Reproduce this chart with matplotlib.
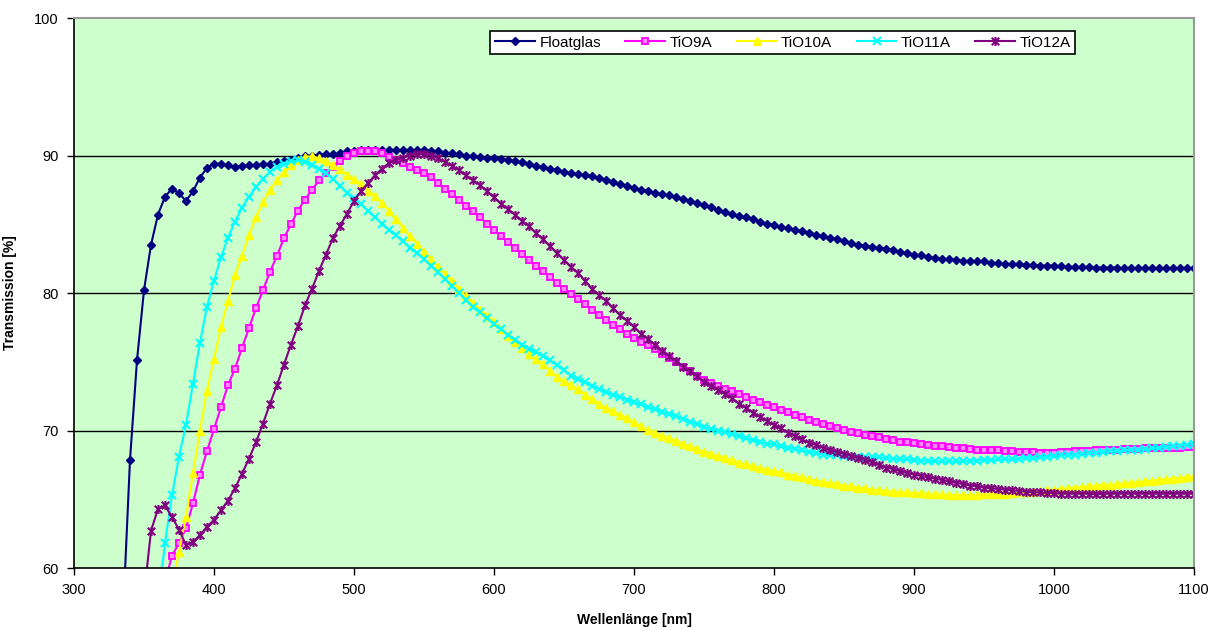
import numpy as np
import matplotlib.pyplot as plt
from matplotlib.path import Path

# wavelength start of each series (5 nm steps up to 1100 nm)
start_float, start_tio9, start_tio10, start_tio11, start_tio12 = 330, 365, 370, 360, 350

floatglas = [
    50.0, 56.5, 67.85, 75.1, 80.2, 83.5, 85.7, 87.0, 87.6, 87.25,
    86.7, 87.4, 88.4, 89.1, 89.4, 89.4, 89.3, 89.2, 89.25, 89.3,
    89.3, 89.35, 89.4, 89.55, 89.6, 89.7, 89.85, 89.95, 90.0, 90.05,
    90.1, 90.1, 90.15, 90.3, 90.35, 90.4, 90.4, 90.4, 90.4, 90.4,
    90.4, 90.4, 90.4, 90.4, 90.4, 90.35, 90.3, 90.2, 90.15, 90.1,
    90.0, 89.95, 89.9, 89.85, 89.8, 89.75, 89.7, 89.6, 89.5, 89.4,
    89.25, 89.15, 89.05, 88.95, 88.8, 88.7, 88.65, 88.55, 88.5, 88.35,
    88.25, 88.1, 87.95, 87.8, 87.65, 87.5, 87.4, 87.3, 87.2, 87.1,
    87.0, 86.85, 86.7, 86.55, 86.4, 86.25, 86.05, 85.9, 85.75, 85.6,
    85.5, 85.35, 85.2, 85.05, 84.95, 84.8, 84.7, 84.6, 84.5, 84.4,
    84.25, 84.15, 84.0, 83.9, 83.8, 83.65, 83.5, 83.45, 83.35, 83.25,
    83.2, 83.15, 83.0, 82.9, 82.8, 82.75, 82.65, 82.55, 82.5, 82.45,
    82.4, 82.35, 82.3, 82.3, 82.3, 82.2, 82.15, 82.1, 82.1, 82.1,
    82.05, 82.05, 82.0, 82.0, 82.0, 81.95, 81.9, 81.9, 81.9, 81.9,
    81.85, 81.85, 81.85, 81.85, 81.8, 81.8, 81.8, 81.8, 81.8, 81.8,
    81.8, 81.8, 81.8, 81.8, 81.8]

tio9a = [
    59.0, 60.9, 61.8, 62.9, 64.7, 66.8, 68.5, 70.1, 71.7, 73.3,
    74.5, 76.0, 77.45, 78.9, 80.2, 81.55, 82.7, 84.0, 85.0, 86.0,
    86.8, 87.5, 88.2, 88.7, 89.2, 89.6, 90.0, 90.2, 90.3, 90.35,
    90.3, 90.15, 89.9, 89.7, 89.45, 89.2, 88.95, 88.7, 88.45, 88.0,
    87.6, 87.2, 86.8, 86.35, 85.95, 85.5, 85.05, 84.6, 84.15, 83.7,
    83.3, 82.85, 82.4, 82.0, 81.6, 81.15, 80.7, 80.3, 79.9, 79.55,
    79.2, 78.8, 78.4, 78.05, 77.7, 77.4, 77.05, 76.75, 76.45, 76.2,
    75.95, 75.6, 75.3, 75.0, 74.65, 74.3, 74.0, 73.7, 73.45, 73.25,
    73.05, 72.85, 72.65, 72.45, 72.25, 72.05, 71.85, 71.7, 71.5, 71.35,
    71.15, 71.0, 70.8, 70.65, 70.5, 70.35, 70.2, 70.05, 69.9, 69.8,
    69.7, 69.6, 69.5, 69.4, 69.3, 69.2, 69.15, 69.1, 69.0, 68.95,
    68.9, 68.85, 68.8, 68.75, 68.7, 68.65, 68.6, 68.6, 68.55, 68.55,
    68.5, 68.5, 68.45, 68.45, 68.45, 68.4, 68.4, 68.4, 68.45, 68.45,
    68.5, 68.5, 68.5, 68.55, 68.6, 68.6, 68.6, 68.65, 68.65, 68.65,
    68.7, 68.7, 68.7, 68.75, 68.75, 68.75, 68.8, 68.8]

tio10a = [
    58.5, 61.2, 63.7, 66.9, 70.0, 72.9, 75.2, 77.5, 79.4, 81.3,
    82.7, 84.2, 85.5, 86.6, 87.5, 88.2, 88.8, 89.3, 89.65, 89.9,
    89.95, 89.8, 89.6, 89.3, 89.0, 88.6, 88.3, 87.95, 87.45, 87.05,
    86.55, 85.95, 85.35, 84.75, 84.15, 83.6, 83.0, 82.5, 81.9, 81.4,
    80.9, 80.3, 79.75, 79.25, 78.8, 78.35, 77.9, 77.4, 76.9, 76.45,
    76.0, 75.6, 75.2, 74.85, 74.35, 73.9, 73.6, 73.3, 73.0, 72.6,
    72.3, 71.95, 71.65, 71.4, 71.15, 70.9, 70.6, 70.3, 70.05, 69.85,
    69.6, 69.45, 69.25, 69.05, 68.85, 68.65, 68.45, 68.3, 68.15, 68.0,
    67.85, 67.65, 67.55, 67.4, 67.3, 67.15, 67.05, 66.95, 66.8, 66.7,
    66.6, 66.45, 66.35, 66.25, 66.2, 66.1, 66.0, 65.95, 65.85, 65.8,
    65.7, 65.65, 65.6, 65.55, 65.5, 65.5, 65.45, 65.45, 65.4, 65.35,
    65.35, 65.3, 65.3, 65.3, 65.3, 65.3, 65.35, 65.35, 65.4, 65.4,
    65.45, 65.5, 65.5, 65.55, 65.6, 65.65, 65.7, 65.75, 65.8, 65.85,
    65.9, 65.95, 66.0, 66.05, 66.05, 66.1, 66.15, 66.2, 66.25, 66.3,
    66.35, 66.4, 66.45, 66.5, 66.55, 66.6, 66.7]

tio11a = [
    57.5, 61.8, 65.3, 68.1, 70.4, 73.4, 76.4, 79.0, 80.9, 82.6,
    84.0, 85.2, 86.2, 87.0, 87.7, 88.3, 88.8, 89.2, 89.4, 89.6,
    89.65, 89.55, 89.3, 89.0, 88.7, 88.3, 87.8, 87.3, 86.9, 86.45,
    86.0, 85.5, 85.05, 84.6, 84.2, 83.75, 83.3, 82.9, 82.45, 82.0,
    81.5, 81.0, 80.5, 80.0, 79.5, 79.0, 78.6, 78.15, 77.75, 77.35,
    76.95, 76.6, 76.25, 75.95, 75.7, 75.45, 75.1, 74.75, 74.4, 74.0,
    73.75, 73.5, 73.25, 73.0, 72.8, 72.6, 72.45, 72.25, 72.05, 71.9,
    71.7, 71.55, 71.35, 71.2, 71.05, 70.85, 70.65, 70.45, 70.25, 70.1,
    70.0, 69.9, 69.75, 69.6, 69.45, 69.3, 69.15, 69.05, 69.0, 68.85,
    68.75, 68.65, 68.55, 68.45, 68.35, 68.25, 68.2, 68.2, 68.15, 68.1,
    68.1, 68.05, 68.05, 68.05, 68.0, 67.95, 67.9, 67.9, 67.85, 67.8,
    67.8, 67.75, 67.75, 67.75, 67.75, 67.75, 67.8, 67.8, 67.85, 67.85,
    67.9, 67.9, 67.9, 67.95, 68.0, 68.0, 68.05, 68.1, 68.15, 68.2,
    68.2, 68.25, 68.3, 68.35, 68.4, 68.45, 68.5, 68.5, 68.55, 68.6,
    68.6, 68.65, 68.7, 68.75, 68.8, 68.85, 68.9, 68.95, 69.05]

tio12a = [
    58.0, 62.7, 64.3, 64.55, 63.7, 62.8, 61.65, 61.9, 62.4, 63.0,
    63.5, 64.2, 64.9, 65.8, 66.85, 67.95, 69.15, 70.5, 71.95, 73.3,
    74.8, 76.25, 77.6, 79.1, 80.3, 81.6, 82.8, 84.0, 84.9, 85.75,
    86.7, 87.4, 88.0, 88.55, 89.05, 89.45, 89.7, 89.85, 90.0, 90.1,
    90.1, 90.0, 89.8, 89.55, 89.25, 88.95, 88.55, 88.2, 87.85, 87.4,
    86.95, 86.5, 86.1, 85.7, 85.25, 84.85, 84.35, 83.9, 83.4, 82.9,
    82.4, 81.9, 81.45, 80.9, 80.3, 79.85, 79.45, 78.9, 78.4, 78.0,
    77.55, 77.05, 76.65, 76.25, 75.8, 75.4, 75.05, 74.65, 74.3, 73.95,
    73.55, 73.25, 72.95, 72.65, 72.35, 71.95, 71.65, 71.3, 71.0, 70.7,
    70.4, 70.15, 69.85, 69.6, 69.35, 69.1, 68.95, 68.75, 68.55, 68.45,
    68.3, 68.15, 68.0, 67.85, 67.7, 67.5, 67.3, 67.2, 67.05, 66.9,
    66.8, 66.7, 66.6, 66.5, 66.4, 66.3, 66.2, 66.1, 66.0, 65.95,
    65.85, 65.8, 65.75, 65.7, 65.65, 65.6, 65.55, 65.5, 65.5, 65.45,
    65.45, 65.4, 65.4, 65.4, 65.4, 65.4, 65.35, 65.4, 65.4, 65.4,
    65.4, 65.4, 65.4, 65.4, 65.4, 65.4, 65.4, 65.4, 65.4, 65.4,
    65.4]

labels = ["Floatglas", "TiO9A", "TiO10A", "TiO11A", "TiO12A"]
xticks = [300, 400, 500, 600, 700, 800, 900, 1000, 1100]
yticks = [60, 70, 80, 90, 100]

# excel style "star" marker: an x with a vertical bar
star = Path([(-1, -1), (1, 1), (-1, 1), (1, -1), (0, -1.2), (0, 1.2)],
            [Path.MOVETO, Path.LINETO, Path.MOVETO, Path.LINETO, Path.MOVETO, Path.LINETO])

plt.rcParams['font.family'] = ['Liberation Sans', 'DejaVu Sans']

fig = plt.figure(figsize=(12.09, 6.30), dpi=100)
ax = fig.add_axes([0.0612, 0.0984, 0.9264, 0.873])
ax.set_facecolor('#CCFFCC')

series = [
    (start_float, floatglas, dict(color='#000080', marker='D', ms=4.5, mec='#000080', mfc='#000080')),
    (start_tio9, tio9a, dict(color='#FF00FF', marker='s', ms=4.5, mec='#FF00FF', mfc='#FF88FF', mew=1.3)),
    (start_tio10, tio10a, dict(color='#FFFF00', marker='^', ms=6, mec='#FFFF00', mfc='#FFFF00')),
    (start_tio11, tio11a, dict(color='#00FFFF', marker='x', ms=6, mew=1.5)),
    (start_tio12, tio12a, dict(color='#800080', marker=star, ms=6.5, mew=1.5)),
]
for (st, vals, style), lab in zip(series, labels):
    x = np.arange(st, 1101, 5)[:len(vals)]
    ax.plot(x, vals, lw=1.5, label=lab, **style)

ax.set_xlim(300, 1100)
ax.set_ylim(60, 100)
ax.set_xticks(xticks)
ax.set_yticks(yticks)
ax.tick_params(labelsize=10.5, length=5, width=1, direction='out', pad=6)
for y in [70, 80, 90]:
    ax.axhline(y, color='black', lw=1, zorder=0.5)

for s in ['left', 'bottom']:
    ax.spines[s].set_color('black')
    ax.spines[s].set_linewidth(1.2)
for s in ['top', 'right']:
    ax.spines[s].set_color('#999999')
    ax.spines[s].set_linewidth(1.5)

ax.set_ylabel('Transmission [%]', fontsize=10, fontweight='bold')
ax.yaxis.set_label_coords(-0.051, 0.5)
ax.set_xlabel('Wellenlänge [nm]', fontsize=10, fontweight='bold', labelpad=11)

leg = ax.legend(loc='upper center', bbox_to_anchor=(0.633, 0.99), ncol=5,
                fontsize=11, frameon=True, fancybox=False, handlelength=2.6,
                columnspacing=1.6, handletextpad=0.3, borderpad=0.3)
leg.get_frame().set_edgecolor('black')
leg.get_frame().set_linewidth(1.2)
leg.get_frame().set_alpha(1)

fig.savefig('out.png', dpi=100)
